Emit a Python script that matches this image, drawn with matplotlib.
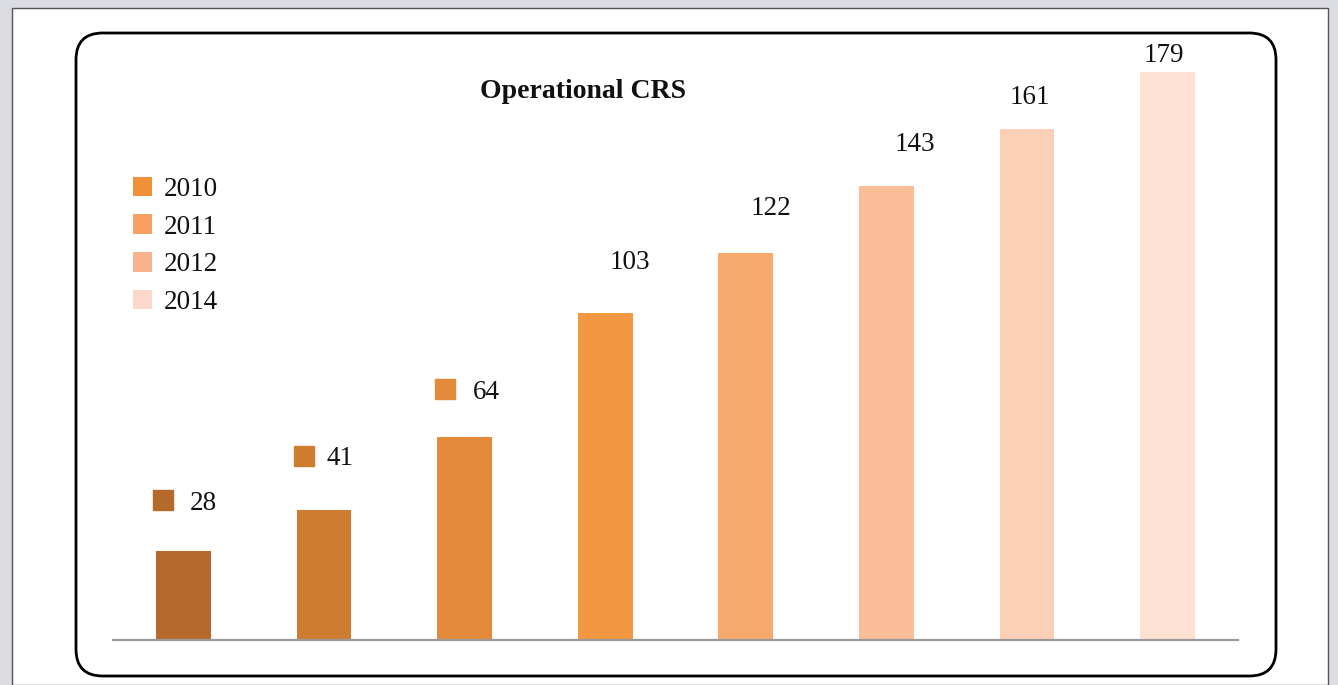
import matplotlib
matplotlib.use("Agg")
import matplotlib.pyplot as plt
import matplotlib.transforms as mtrans
from matplotlib.patches import FancyBboxPatch, Rectangle, Patch

# ---- data ----
categories = ["1", "2", "3", "4", "5", "6", "7", "8"]
values = [28, 41, 64, 103, 122, 143, 161, 179]
bar_colors = ["#B56A2B", "#CE7C30", "#E48B3B", "#F29742", "#F6A96B",
              "#F9BD98", "#FCD0B7", "#FDE2D4"]
label_offsets = [16, 17, 15, 17, 15, 14, 11, 6]        # data units above bar
label_dx = [20, 16, 22, 25, 25, 28, 3, -4]             # px
marker_idx = [0, 1, 2]
legend_labels = ["2010", "2011", "2012", "2014"]
legend_colors = ["#F0913A", "#F6A062", "#F8B28E", "#FCD8CA"]
title = "Operational CRS"

W, H = 1338, 685
fig = plt.figure(figsize=(W / 100, H / 100), dpi=100)
fig.patch.set_facecolor("#DCDCE3")

def fx(x): return x / W
def fy(y): return 1 - y / H

# white panel
fig.patches.append(Rectangle((fx(12), 0), fx(1328) - fx(12), fy(8),
                             transform=fig.transFigure, facecolor="white",
                             edgecolor="#555555", linewidth=1.0, zorder=-3))
# rounded frame
fig.patches.append(FancyBboxPatch((fx(76), fy(676)), fx(1276) - fx(76), fy(33) - fy(676),
                                  boxstyle="round,pad=0,rounding_size=0.02",
                                  mutation_aspect=W / H,
                                  transform=fig.transFigure, facecolor="white",
                                  edgecolor="black", linewidth=2.0, zorder=-2))

ymax = 200
px_per_unit = 568 / 179
ax_top = 640 - ymax * px_per_unit
ax = fig.add_axes([fx(113), fy(640), fx(1238) - fx(113), fy(ax_top) - fy(640)])
ax.set_facecolor("none")
x = list(range(len(categories)))
ax.bar(x, values, width=0.39, color=bar_colors, zorder=2)
ax.set_xlim(-0.5, len(categories) - 0.5)
ax.set_ylim(0, ymax)
for s in ["top", "right", "left"]:
    ax.spines[s].set_visible(False)
ax.spines["bottom"].set_color("#9A9A9A")
ax.spines["bottom"].set_linewidth(1.6)
ax.spines["bottom"].set_zorder(3)
ax.set_xticks([])
ax.set_yticks([])

serif = ["Liberation Serif", "DejaVu Serif"]
for i, v in enumerate(values):
    tr = ax.transData + mtrans.ScaledTranslation(label_dx[i] / 100, -0.03, fig.dpi_scale_trans)
    ax.text(i, v + label_offsets[i], str(v), transform=tr, ha="center", va="center",
            fontsize=19.5, family=serif, color="#111111", clip_on=False)
for i in marker_idx:
    tr = ax.transData + mtrans.ScaledTranslation(-0.20, 0.0, fig.dpi_scale_trans)
    ax.plot([i], [values[i] + label_offsets[i]], marker="s", markersize=14,
            color=bar_colors[i], transform=tr, clip_on=False, linestyle="none")

fig.text(fx(583), fy(92), title, ha="center", va="center", fontsize=20,
         fontweight="bold", family=serif, color="#111111")

handles = [Patch(facecolor=c, edgecolor="none") for c in legend_colors]
leg = fig.legend(handles, legend_labels, loc="upper left",
                 bbox_to_anchor=(fx(119), fy(163)), frameon=False,
                 prop={"family": serif, "size": 19.5},
                 handlelength=0.72, handleheight=0.72, handletextpad=0.45,
                 labelspacing=0.47, borderpad=0)
for t in leg.get_texts():
    t.set_color("#111111")

fig.savefig("out.png", dpi=100, facecolor=fig.get_facecolor())
